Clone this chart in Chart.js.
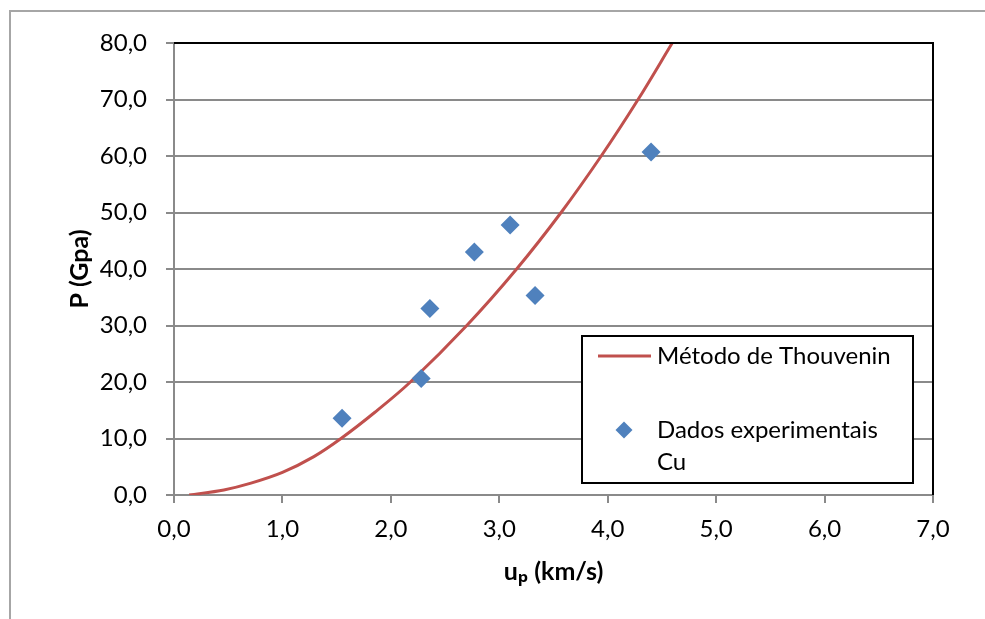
<!DOCTYPE html>
<html><head><meta charset="utf-8">
<script src="https://cdn.jsdelivr.net/npm/chart.js@4/dist/chart.umd.min.js"></script>
<style>html,body{margin:0;padding:0;background:#fff;overflow:hidden}#wrap{width:985px;height:619px;position:relative}</style>
</head><body><div id="wrap"><canvas id="c" width="985" height="619"></canvas></div>
<script>
// ---- data ----
const curveU = [0.14, 0.46, 0.71, 1.0, 1.29, 1.54, 1.85, 2.18, 2.70, 3.16, 3.57, 3.94, 4.28, 4.595];
const curveP = [0.0, 0.9, 2.1, 4.0, 6.8, 10.0, 14.6, 20.0, 30.0, 40.0, 50.0, 60.0, 70.0, 80.0];
const expU = [1.55, 2.28, 2.36, 2.77, 3.10, 3.33, 4.40];
const expP = [13.6, 20.6, 33.0, 43.0, 47.8, 35.3, 60.7];
const xTicks = [0, 1, 2, 3, 4, 5, 6, 7];
const yTicks = [0, 10, 20, 30, 40, 50, 60, 70, 80];
const seriesLabels = ['Método de Thouvenin', 'Dados experimentais Cu'];
const legendLines = [['Método de Thouvenin'], ['Dados experimentais', 'Cu']];
const xTitle = 'uₚ (km/s)';
const yTitle = 'P (Gpa)';

const FONT = 'Lato, "Open Sans", "DejaVu Sans", sans-serif';
const RED = '#C0504D', BLUE = '#4F81BD', GRID = '#8a8a8a';
const fmt = v => Number(v).toFixed(1).replace('.', ',');

const frame = {
  id: 'frame',
  beforeDraw(chart) {
    const ctx = chart.ctx;
    ctx.save();
    ctx.strokeStyle = '#a6a6a6'; ctx.lineWidth = 2;
    ctx.beginPath(); ctx.moveTo(10, 619); ctx.lineTo(10, 11); ctx.lineTo(985, 11); ctx.stroke();
    ctx.restore();
  },
  afterDraw(chart) {
    const ctx = chart.ctx, a = chart.chartArea;
    ctx.save();
    ctx.strokeStyle = '#000'; ctx.lineWidth = 2;
    ctx.beginPath(); ctx.moveTo(a.left, a.top); ctx.lineTo(a.right, a.top); ctx.lineTo(a.right, a.bottom); ctx.stroke();
    // legend
    const lx = a.left + 408, ly = a.top + 293, lw = 331, lh = 147;
    ctx.fillStyle = '#fff'; ctx.fillRect(lx, ly, lw, lh);
    ctx.strokeRect(lx, ly, lw, lh);
    ctx.font = '24px ' + FONT; ctx.fillStyle = '#000'; ctx.textBaseline = 'middle'; ctx.textAlign = 'left';
    ctx.strokeStyle = RED; ctx.lineWidth = 3;
    ctx.beginPath(); ctx.moveTo(lx + 16, ly + 20); ctx.lineTo(lx + 69, ly + 20); ctx.stroke();
    legendLines[0].forEach((t, i) => ctx.fillText(t, lx + 75, ly + 20 + i * 32));
    ctx.fillStyle = BLUE;
    ctx.beginPath(); ctx.moveTo(lx + 42, ly + 85.5); ctx.lineTo(lx + 50.5, ly + 94); ctx.lineTo(lx + 42, ly + 102.5); ctx.lineTo(lx + 33.5, ly + 94); ctx.closePath(); ctx.fill();
    ctx.fillStyle = '#000';
    legendLines[1].forEach((t, i) => ctx.fillText(t, lx + 75, ly + 94 + i * 32));
    ctx.restore();
  }
};

new Chart(document.getElementById('c'), {
  type: 'scatter',
  data: {
    datasets: [
      {
        label: seriesLabels[0],
        data: curveU.map((u, i) => ({x: u, y: curveP[i]})),
        showLine: true, borderColor: RED, borderWidth: 3, pointRadius: 0,
        tension: 0.35, fill: false, order: 1
      },
      {
        label: seriesLabels[1],
        data: expU.map((u, i) => ({x: u, y: expP[i]})),
        showLine: false, pointStyle: 'rectRot', pointRadius: 9.5,
        backgroundColor: BLUE, borderColor: BLUE, borderWidth: 0, order: 0
      }
    ]
  },
  options: {
    responsive: false, animation: false, devicePixelRatio: 1,
    layout: {padding: {top: 43, right: 52, bottom: 0, left: 0}},
    plugins: {legend: {display: false}, tooltip: {enabled: false}},
    scales: {
      x: {
        type: 'linear', min: 0, max: 7,
        afterBuildTicks: s => { s.ticks = xTicks.map(v => ({value: v})); },
        afterFit: s => { s.height = 124; },
        grid: {drawOnChartArea: false, drawTicks: true, tickLength: 8, color: GRID, lineWidth: 2},
        border: {display: true, color: GRID, width: 2},
        ticks: {callback: fmt, color: '#000', font: {family: FONT, size: 24}, padding: 12, maxRotation: 0},
        title: {display: true, text: xTitle, color: '#000', font: {family: FONT, size: 25, weight: 'bold'}, padding: {top: 0, bottom: 32}}
      },
      y: {
        type: 'linear', min: 0, max: 80,
        afterBuildTicks: s => { s.ticks = yTicks.map(v => ({value: v})); },
        afterFit: s => { s.width = 174; },
        grid: {drawOnChartArea: true, drawTicks: true, tickLength: 8, color: GRID, lineWidth: 2},
        border: {display: true, color: GRID, width: 2},
        ticks: {callback: fmt, color: '#000', font: {family: FONT, size: 24}, padding: 19},
        title: {display: true, text: yTitle, color: '#000', font: {family: FONT, size: 25, weight: 'bold'}, padding: {top: 65, bottom: 0}}
      }
    }
  },
  plugins: [frame]
});
</script></body></html>
